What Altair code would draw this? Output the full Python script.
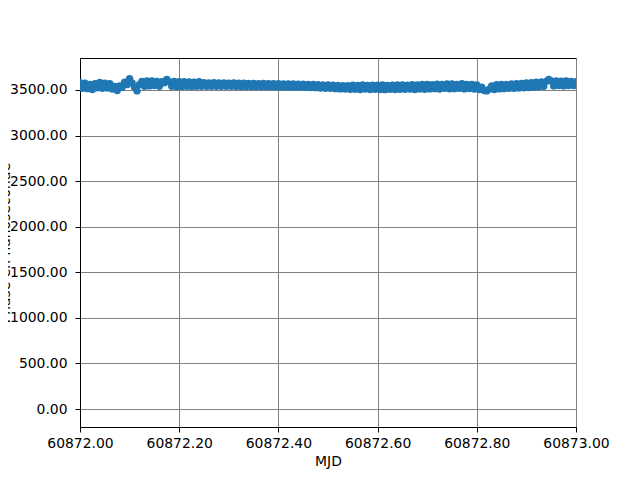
import altair as alt
import pandas as pd

# Phase values (ns), sampled every 0.005 day from MJD 60872.00
phase = [
    3580, 3520, 3575, 3515, 3560, 3505, 3570, 3525, 3582, 3518,
    3575, 3522, 3568, 3510, 3540, 3495, 3545, 3530, 3585, 3560,
    3625, 3578, 3530, 3490, 3560, 3595, 3540, 3598, 3545, 3600,
    3550, 3595, 3540, 3590, 3580, 3615, 3590, 3540, 3595, 3535,
    3592, 3538, 3590, 3540, 3588, 3538, 3585, 3540, 3590, 3542,
    3580, 3542, 3578, 3540, 3580, 3542, 3576, 3540, 3578, 3541,
    3575, 3540, 3576, 3538, 3574, 3539, 3575, 3537, 3572, 3538,
    3573, 3536, 3570, 3537, 3571, 3535, 3569, 3536, 3568, 3534,
    3568, 3534, 3566, 3533, 3567, 3531, 3565, 3532, 3564, 3530,
    3563, 3529, 3562, 3527, 3560, 3526, 3558, 3522, 3556, 3520,
    3554, 3518, 3552, 3515, 3550, 3512, 3548, 3510, 3548, 3508,
    3552, 3508, 3550, 3505, 3554, 3510, 3550, 3506, 3553, 3508,
    3552, 3506, 3555, 3504, 3550, 3509, 3553, 3506, 3555, 3507,
    3556, 3508, 3552, 3510, 3558, 3506, 3555, 3512, 3560, 3508,
    3562, 3512, 3558, 3515, 3563, 3510, 3560, 3518, 3565, 3513,
    3566, 3515, 3562, 3518, 3568, 3512, 3560, 3516, 3562, 3510,
    3555, 3505, 3530, 3495, 3490, 3510, 3545, 3505, 3558, 3512,
    3562, 3515, 3560, 3518, 3565, 3520, 3570, 3522, 3572, 3525,
    3578, 3528, 3580, 3530, 3585, 3535, 3588, 3540, 3595, 3615,
    3600, 3545, 3598, 3548, 3596, 3545, 3600, 3550, 3595, 3548,
    3590,
]
mjd_start = 60872.0
mjd_step = 0.005
mjd = [mjd_start + i * mjd_step for i in range(len(phase))]

x_ticks = [60872.0, 60872.2, 60872.4, 60872.6, 60872.8, 60873.0]
y_ticks = [0, 500, 1000, 1500, 2000, 2500, 3000, 3500]

df = pd.DataFrame({"MJD": mjd, "phase": phase})

chart = alt.Chart(df).mark_line(
    color="#1f77b4", strokeWidth=2, clip=True,
    point=alt.OverlayMarkDef(size=55, filled=True, opacity=1, color="#1f77b4"),
).encode(
    x=alt.X("MJD:Q", scale=alt.Scale(domain=[60872.0, 60873.0], nice=False, zero=False),
            axis=alt.Axis(values=x_ticks, format=".2f", title="MJD")),
    y=alt.Y("phase:Q", scale=alt.Scale(domain=[-197, 3851], nice=False, zero=False),
            axis=alt.Axis(values=y_ticks, format=".2f", title="Phase en nanoseconde",
                          labelPadding=8, titleX=-68, titleY=184.5, titleAngle=270,
                          titleAlign="center", titleBaseline="bottom")),
).properties(
    width=496, height=369,
    autosize=alt.AutoSizeParams(type="none"),
    padding={"left": 72, "top": 50, "right": 56, "bottom": 45},
).configure_view(
    stroke="black", strokeWidth=1,
).configure_axis(
    labelFont="DejaVu Sans", titleFont="DejaVu Sans",
    labelFontSize=13.9, titleFontSize=13.9, titleFontWeight="normal",
    labelColor="black", titleColor="black",
    tickColor="black", tickSize=5, tickWidth=1, labelPadding=4,
    domainColor="black", domainWidth=1,
    gridColor="#808080", gridOpacity=1, gridWidth=1,
    titlePadding=5, labelFlush=False, labelOverlap=False,
)

chart.save("out.html", embed_options={"renderer": "svg", "actions": False})
